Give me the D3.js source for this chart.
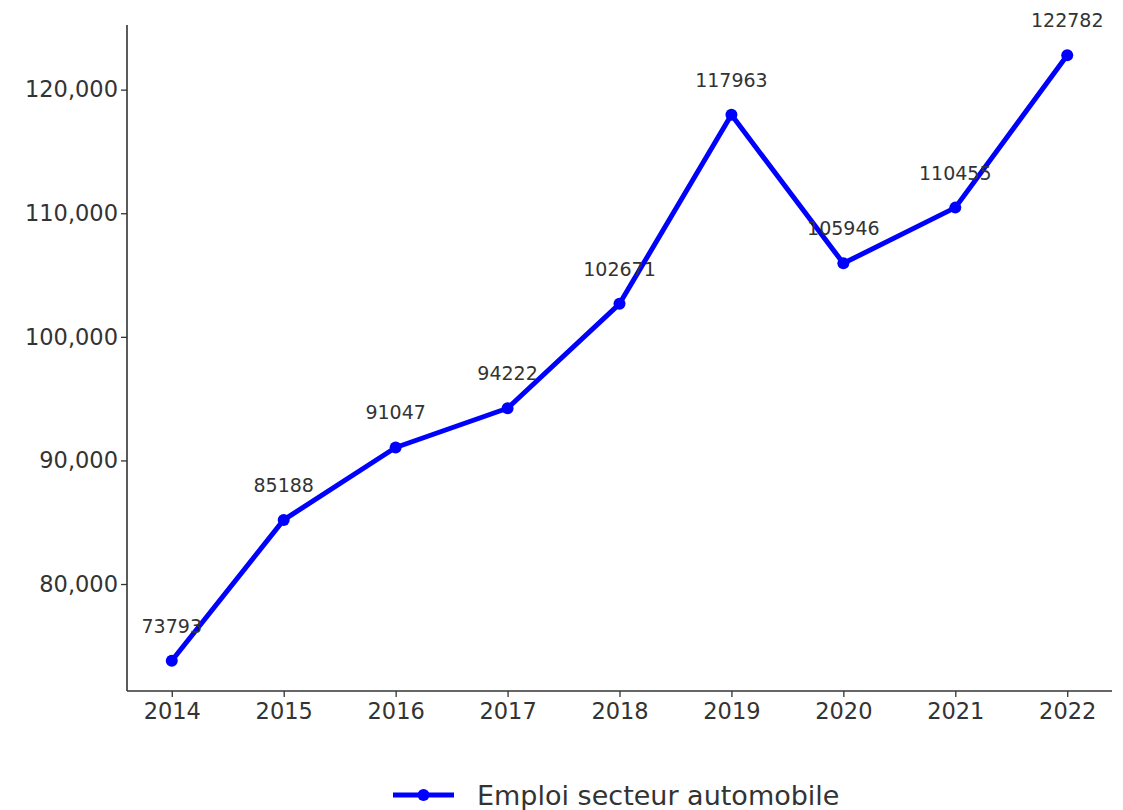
<!DOCTYPE html>
<html>
<head>
<meta charset="utf-8">
<script src="https://cdn.jsdelivr.net/npm/d3@7"></script>
<style>
  body { margin: 0; background: #fff; }
  svg { display: block; font-family: "DejaVu Sans", sans-serif; }
</style>
</head>
<body>
<svg id="chart" width="1123" height="810"></svg>
<script>
// Employment in the automotive sector, per year
const years = [2014, 2015, 2016, 2017, 2018, 2019, 2020, 2021, 2022];
const employment = [73793, 85188, 91047, 94222, 102671, 117963, 105946, 110455, 122782];
const yTicks = [80000, 90000, 100000, 110000, 120000];
const seriesName = "Emploi secteur automobile";

const W = 1123, H = 810;
const margin = { left: 127, right: 11, top: 25, bottom: 119 };
const textColor = "#333";
const lineColor = "#0000ff";

const svg = d3.select("#chart");

// 5% padding on both axes around the data range
const xPad = (d3.max(years) - d3.min(years)) * 0.05;
const [yMin, yMax] = d3.extent(employment);
const yPad = (yMax - yMin) * 0.05;

const x = d3.scaleLinear()
  .domain([d3.min(years) - xPad, d3.max(years) + xPad])
  .range([margin.left, W - margin.right]);
const y = d3.scaleLinear()
  .domain([yMin - yPad, yMax + yPad])
  .range([H - margin.bottom, margin.top]);

// Axes (left and bottom spines only)
const xAxis = svg.append("g")
  .attr("transform", `translate(0,${H - margin.bottom})`)
  .call(d3.axisBottom(x).tickValues(years).tickFormat(d3.format("d")).tickSize(6).tickPadding(6).tickSizeOuter(0));
const yAxis = svg.append("g")
  .attr("transform", `translate(${margin.left},0)`)
  .call(d3.axisLeft(y).tickValues(yTicks).tickFormat(d3.format(",")).tickSize(6).tickPadding(3).tickSizeOuter(0));

[xAxis, yAxis].forEach(g => {
  g.select(".domain").attr("stroke", textColor).attr("stroke-width", 1.6);
  g.selectAll(".tick line").attr("stroke", textColor).attr("stroke-width", 1.3);
  g.selectAll(".tick text")
    .attr("fill", textColor)
    .style("font-family", "DejaVu Sans")
    .style("font-size", "22.5px");
});
// spines span the full padded range
xAxis.select(".domain").attr("d", `M${margin.left},0H${W - margin.right}`);
yAxis.select(".domain").attr("d", `M0,${H - margin.bottom}V${margin.top}`);

const pts = years.map((yr, i) => ({ yr, v: employment[i] }));

// Series line
svg.append("path")
  .datum(pts)
  .attr("fill", "none")
  .attr("stroke", lineColor)
  .attr("stroke-width", 5)
  .attr("stroke-linejoin", "round")
  .attr("d", d3.line().x(d => x(d.yr)).y(d => y(d.v)));

// Markers
svg.append("g").selectAll("circle")
  .data(pts).join("circle")
  .attr("cx", d => x(d.yr))
  .attr("cy", d => y(d.v))
  .attr("r", 6)
  .attr("fill", lineColor);

// Value labels above each point
svg.append("g").selectAll("text")
  .data(pts).join("text")
  .attr("x", d => x(d.yr))
  .attr("y", d => y(d.v) - 28)
  .attr("text-anchor", "middle")
  .attr("fill", textColor)
  .style("font-size", "19px")
  .text(d => d.v);

// Legend
const lg = svg.append("g").attr("transform", "translate(393,795)");
lg.append("line").attr("x1", 0).attr("x2", 61).attr("y1", 0).attr("y2", 0)
  .attr("stroke", lineColor).attr("stroke-width", 5);
lg.append("circle").attr("cx", 30.5).attr("cy", 0).attr("r", 6).attr("fill", lineColor);
lg.append("text").attr("x", 84).attr("y", 10)
  .attr("fill", textColor)
  .style("font-size", "27px")
  .text(seriesName);
</script>
</body>
</html>
